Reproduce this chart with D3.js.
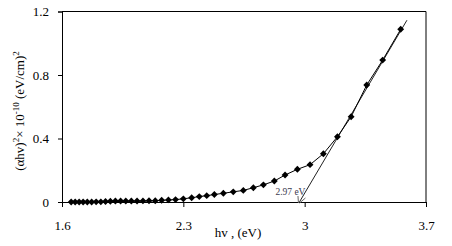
<!DOCTYPE html>
<html>
<head>
  <meta charset="UTF-8">
  <script src="https://d3js.org/d3.v7.min.js"></script>
  <style>
    body { margin: 0; background: white; }
    text { font-family: "Liberation Serif", "Times New Roman", serif; }
  </style>
</head>
<body>
<svg id="chart"></svg>
<script>
  // photon energy hv (eV) and (alpha h v)^2 x 1e-10
  let hv = [1.653, 1.676, 1.699, 1.722, 1.746, 1.771, 1.797, 1.824, 1.851, 1.879,
            1.908, 1.938, 1.968, 2.000, 2.033, 2.067, 2.102, 2.138, 2.175, 2.214,
            2.255, 2.300, 2.348, 2.392, 2.435, 2.479, 2.531, 2.588, 2.646, 2.704,
            2.762, 2.825, 2.887, 2.958, 3.031, 3.108, 3.189, 3.268, 3.358, 3.450, 3.554];
  let ahv2 = [0.000, 0.000, 0.000, 0.000, 0.000, 0.000, 0.001, 0.001, 0.003, 0.005,
              0.006, 0.006, 0.006, 0.006, 0.006, 0.007, 0.008, 0.008, 0.011, 0.013,
              0.015, 0.020, 0.027, 0.034, 0.040, 0.047, 0.055, 0.064, 0.073, 0.090,
              0.108, 0.132, 0.170, 0.206, 0.235, 0.304, 0.411, 0.537, 0.737, 0.894, 1.088];
  // linear fit of the band edge
  let fitX = [2.97, 3.59];
  let fitY = [0, 1.145];
  let gapLabel = "2.97 eV";
  let xTicks = [1.6, 2.3, 3, 3.7];
  let yTicks = [0, 0.4, 0.8, 1.2];

  let width = 452, height = 246;
  let mLeft = 62, mRight = 426, mTop = 11.5, mBottom = 202;

  let svg = d3.select("#chart").attr("width", width).attr("height", height);

  let x = d3.scaleLinear().domain([1.6, 3.7]).range([mLeft, mRight]);
  let y = d3.scaleLinear().domain([0, 1.2]).range([mBottom, mTop]);

  let points = hv.map((d, i) => ({ x: d, y: ahv2[i] }));

  // frame (top and right)
  svg.append("path")
     .attr("d", `M${mLeft},${mTop}H${mRight}V${mBottom}`)
     .attr("fill", "none").attr("stroke", "black").attr("stroke-width", 1);

  let xAxis = svg.append("g").attr("transform", `translate(0,${mBottom})`)
                 .call(d3.axisBottom(x).tickValues(xTicks).tickSize(5).tickPadding(14)
                        .tickFormat(d3.format("")));
  let yAxis = svg.append("g").attr("transform", `translate(${mLeft},0)`)
                 .call(d3.axisLeft(y).tickValues(yTicks).tickSize(4).tickPadding(9)
                        .tickFormat(d3.format("")));
  [xAxis, yAxis].forEach(a => {
    a.select(".domain").attr("stroke", "black");
    a.selectAll("text").attr("font-size", 13).attr("fill", "black")
     .style("font-family", "'Liberation Serif', serif");
  });

  // fit line
  svg.append("line")
     .attr("x1", x(fitX[0])).attr("y1", y(fitY[0]))
     .attr("x2", x(fitX[1])).attr("y2", y(fitY[1]))
     .attr("stroke", "#222").attr("stroke-width", 1);

  // data line and markers
  svg.append("path").datum(points)
     .attr("d", d3.line().x(d => x(d.x)).y(d => y(d.y)))
     .attr("fill", "none").attr("stroke", "black").attr("stroke-width", 1);

  svg.selectAll(".pt").data(points).join("path")
     .attr("class", "pt")
     .attr("d", d3.symbol(d3.symbolDiamond2, 30))
     .attr("transform", d => `translate(${x(d.x)},${y(d.y)})`)
     .attr("fill", "black");

  // annotation arrow
  let ax = x(fitX[0]);
  svg.append("path")
     .attr("d", `M${ax - 1.5},${mBottom - 6}L${ax - 1},${mBottom + 1}M${ax},${mBottom + 1}L${ax + 6},${mBottom - 4}`)
     .attr("fill", "none").attr("stroke", "#666").attr("stroke-width", 1);
  svg.append("text")
     .attr("x", ax + 6).attr("y", mBottom - 7)
     .attr("text-anchor", "end")
     .attr("font-size", 9.5).attr("fill", "#3b3b4f")
     .text(gapLabel);

  // axis titles
  svg.append("text")
     .attr("x", 238).attr("y", 237)
     .attr("text-anchor", "middle").attr("font-size", 13)
     .text("hv , (eV)");

  let yl = svg.append("text")
     .attr("transform", "translate(24,111) rotate(-90)")
     .attr("text-anchor", "middle").attr("font-size", 13);
  yl.append("tspan").text("(αhv)");
  yl.append("tspan").attr("dy", -5).attr("font-size", 9).text("2");
  yl.append("tspan").attr("dy", 5).text("× 10");
  yl.append("tspan").attr("dy", -5).attr("font-size", 9).text("-10");
  yl.append("tspan").attr("dy", 5).text(" (eV/cm)");
  yl.append("tspan").attr("dy", -5).attr("font-size", 9).text("2");
</script>
</body>
</html>
